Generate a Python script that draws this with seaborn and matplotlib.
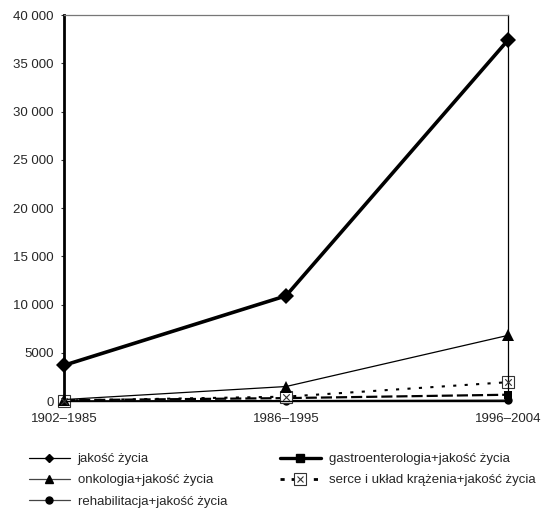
import matplotlib
matplotlib.use("Agg")
import matplotlib.pyplot as plt
from matplotlib.lines import Line2D
from matplotlib.ticker import FuncFormatter, MultipleLocator
import seaborn as sns
import pandas as pd

periods = ["1902\u20131985", "1986\u20131995", "1996\u20132004"]

jakosc = [3700, 10900, 37400]
onkologia = [150, 1500, 6800]
gastro = [80, 300, 650]
serce = [50, 450, 1950]
rehabilitacja = [10, 40, 80]

labels = [
    "jakość życia",
    "onkologia+jakość życia",
    "rehabilitacja+jakość życia",
    "gastroenterologia+jakość życia",
    "serce i układ krążenia+jakość życia",
]

sns.set_style("white")
plt.rcParams["font.family"] = ["Liberation Sans", "DejaVu Sans"]
FS_TICK = 9.5
FS_LEG = 9.5

fig = plt.figure(figsize=(5.5, 5.11), dpi=100)
ax = fig.add_axes([64 / 550, 1 - 401 / 511, (508 - 64) / 550, 386 / 511])

def draw(values, **kw):
    df = pd.DataFrame({"okres": periods, "n": values})
    sns.lineplot(data=df, x="okres", y="n", ax=ax, sort=False, clip_on=False,
                 color="black", **kw)

draw(rehabilitacja, lw=1.0, marker="o", markersize=6, markeredgewidth=0)
draw(gastro, lw=1.6, dashes=(5, 1.8), marker="s", markersize=6, markeredgewidth=0)
draw(serce, lw=1.5, dashes=(1.5, 4), marker="s", markersize=8,
     markerfacecolor="white", markeredgecolor="#333333", markeredgewidth=0.8)
sns.scatterplot(x=periods, y=serce, ax=ax, marker="x", s=22, color="#333333",
                linewidth=0.8, clip_on=False, zorder=5)
draw(onkologia, lw=0.9, marker="^", markersize=9, markeredgewidth=0)
draw(jakosc, lw=2.6, marker="D", markersize=8, markeredgewidth=0)

ax.set_xlim(0, 2)
ax.set_ylim(0, 40000)
ax.yaxis.set_major_locator(MultipleLocator(5000))
ax.yaxis.set_major_formatter(FuncFormatter(
    lambda v, p: f"{int(v):,}".replace(",", " ") if v >= 10000 else f"{int(v)}"))
ax.set_xlabel("")
ax.set_ylabel("")
ax.tick_params(axis="y", left=True, length=2, width=0.8, pad=5.5,
               labelsize=FS_TICK, color="#333333")
ax.tick_params(axis="x", bottom=False, pad=5, labelsize=FS_TICK)

ax.spines["left"].set_linewidth(2.0)
ax.spines["left"].set_color("black")
ax.spines["bottom"].set_linewidth(1.0)
ax.spines["bottom"].set_color("black")
ax.spines["right"].set_linewidth(0.9)
ax.spines["right"].set_color("black")
ax.spines["top"].set_linewidth(0.9)
ax.spines["top"].set_color("#777777")

handles = [
    Line2D([], [], color="black", lw=0.9, marker="D", markersize=4.5),
    Line2D([], [], color="#444444", lw=0.9, marker="^", markersize=6, markerfacecolor="black",
           markeredgecolor="black"),
    Line2D([], [], color="#444444", lw=0.9, marker="o", markersize=5, markerfacecolor="black",
           markeredgecolor="black"),
    Line2D([], [], color="black", lw=2.4, marker="s", markersize=6),
    (Line2D([], [], color="black", lw=2.0, dashes=(1.5, 2.5)),
     Line2D([], [], ls="none", marker="s", markersize=8, markerfacecolor="white",
            markeredgecolor="#333333", markeredgewidth=0.8),
     Line2D([], [], ls="none", marker="x", markersize=4.5, color="#333333",
            markeredgewidth=0.8)),
]
fig.legend(handles, labels, ncol=2, loc="upper left",
           bbox_to_anchor=(29 / 550, 1 - 453 / 511), frameon=False,
           borderpad=0, borderaxespad=0, fontsize=FS_LEG, handlelength=3.1,
           handletextpad=0.6, columnspacing=4.0, labelspacing=0.68)

fig.savefig("out.png", dpi=100, facecolor="white")
